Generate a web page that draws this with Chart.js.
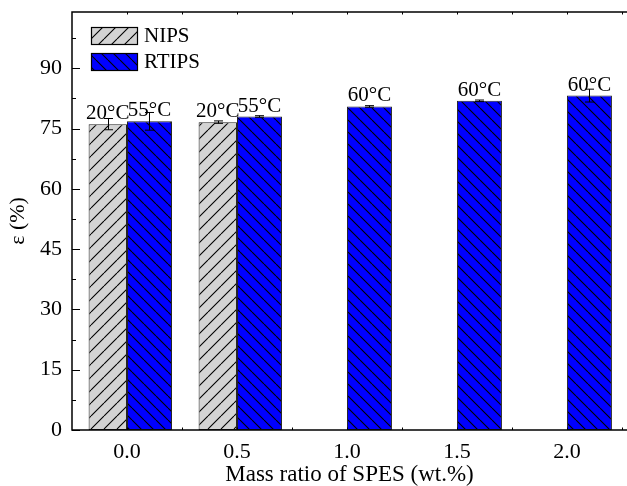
<!DOCTYPE html>
<html><head><meta charset="utf-8">
<script src="https://cdn.jsdelivr.net/npm/chart.js@4/dist/chart.umd.min.js"></script>
<style>html,body{margin:0;padding:0;background:#fff;}#wrap{width:627px;height:486px;position:relative;}</style>
</head><body><div id="wrap"><canvas id="c" width="627" height="486"></canvas></div>
<script>
// ---- data ----
const MASS_RATIOS = [0, 0.5, 1.0, 1.5, 2.0];
const TICK_LABELS = ['0.0', '0.5', '1.0', '1.5', '2.0'];
const NIPS_X = [0, 0.5];
const NIPS_VALUES = [76.1, 76.6];
const NIPS_ERRORS = [1.4, 0.3];
const NIPS_TEMPS = ['20°C', '20°C'];
const RTIPS_VALUES = [76.8, 78.0, 80.5, 81.9, 83.2];
const RTIPS_ERRORS = [2.2, 0.2, 0.2, 0.2, 1.6];
const RTIPS_TEMPS = ['55°C', '55°C', '60°C', '60°C', '60°C'];
const Y_TICKS = [0, 15, 30, 45, 60, 75, 90];
const SERIES_NAMES = ['NIPS', 'RTIPS'];

const FONT = '"Liberation Serif", "Times New Roman", serif';
const X_MIN = -0.25, X_MAX = 2.273, Y_MIN = 0, Y_MAX = 104;

function hatch(bg, dir, p) {
  const c = document.createElement('canvas'); c.width = p; c.height = p;
  const g = c.getContext('2d');
  g.fillStyle = bg; g.fillRect(0, 0, p, p);
  g.strokeStyle = '#000'; g.lineWidth = 1.1;
  g.beginPath();
  for (const k of [-p, 0, p]) {
    if (dir === '/') { g.moveTo(k, p); g.lineTo(k + p, 0); }
    else { g.moveTo(k, 0); g.lineTo(k + p, p); }
  }
  g.stroke();
  return g.createPattern(c, 'repeat');
}
const ctx = document.getElementById('c').getContext('2d');
const greyPat = hatch('#d3d3d3', '/', 13);
const bluePat = hatch('#0000ff', '\\', 12);
const ERRORS = [NIPS_ERRORS, RTIPS_ERRORS];
const TEMPS = [NIPS_TEMPS, RTIPS_TEMPS];
const FILLS = [greyPat, bluePat];

const custom = {
  id: 'custom',
  afterDatasetsUpdate(chart) {
    const ds = chart.data.datasets[0];
    chart.getDatasetMeta(0).data.forEach(el => {
      const chunk = el.width / ds.barPercentage;
      el.x += (chunk - el.width) / 2;
    });
  },
  afterDatasetsDraw(chart) {
    const c = chart.ctx, ys = chart.scales.y;
    c.save();
    c.strokeStyle = '#000'; c.lineWidth = 1;
    chart.data.datasets.forEach((ds, di) => {
      chart.getDatasetMeta(di).data.forEach((el, i) => {
        const v = ds.data[i].y, e = ERRORS[di][i];
        const y1 = ys.getPixelForValue(v - e), y2 = ys.getPixelForValue(v + e);
        const x = Math.round(el.x) + 0.5;
        c.beginPath();
        c.moveTo(x, y1); c.lineTo(x, y2);
        c.moveTo(x - 4.5, y1); c.lineTo(x + 4.5, y1);
        c.moveTo(x - 4.5, y2); c.lineTo(x + 4.5, y2);
        c.stroke();
      });
    });
    c.fillStyle = '#000'; c.font = '21px ' + FONT;
    c.textAlign = 'center'; c.textBaseline = 'alphabetic';
    chart.data.datasets.forEach((ds, di) => {
      chart.getDatasetMeta(di).data.forEach((el, i) => {
        c.fillText(TEMPS[di][i], el.x, el.y - 5);
      });
    });
    c.restore();
  },
  afterDraw(chart) {
    const c = chart.ctx, a = chart.chartArea, xs = chart.scales.x, ys = chart.scales.y;
    c.save();
    c.strokeStyle = '#000'; c.lineWidth = 1.5;
    c.beginPath();
    c.moveTo(a.right + 2, a.top); c.lineTo(a.left, a.top); c.lineTo(a.left, a.bottom); c.lineTo(a.right + 2, a.bottom);
    c.stroke();
    c.lineWidth = 1;
    c.beginPath();
    for (let v = 0; v <= Y_MAX; v += 7.5) {
      const y = Math.round(ys.getPixelForValue(v)) + 0.5;
      const len = (v % 15 === 0) ? 8 : 4;
      c.moveTo(a.left, y); c.lineTo(a.left + len, y);
    }
    for (let v = 0; v <= X_MAX; v += 0.25) {
      const x = Math.round(xs.getPixelForValue(v)) + 0.5;
      c.moveTo(x, a.top); c.lineTo(x, a.top + 2.5);
      c.moveTo(x, a.bottom); c.lineTo(x, a.bottom - 2.5);
    }
    c.stroke();
    const legY = [27, 53];
    c.font = '21px ' + FONT; c.textAlign = 'left'; c.textBaseline = 'middle';
    SERIES_NAMES.forEach((name, i) => {
      c.fillStyle = FILLS[i];
      c.fillRect(91, legY[i], 47, 17);
      c.strokeStyle = '#000'; c.lineWidth = 1.2;
      c.strokeRect(91.5, legY[i] + 0.5, 46, 17);
      c.fillStyle = '#000';
      c.fillText(name, 144, legY[i] + 9.5);
    });
    c.restore();
  }
};

new Chart(ctx, {
  type: 'bar',
  data: {
    datasets: [
      { label: SERIES_NAMES[0], data: NIPS_X.map((x, i) => ({ x, y: NIPS_VALUES[i] })),
        backgroundColor: greyPat, borderColor: '#222', borderWidth: 1, borderSkipped: false,
        barPercentage: 38.4 / 45, categoryPercentage: 90 / 110 },
      { label: SERIES_NAMES[1], data: MASS_RATIOS.map((x, i) => ({ x, y: RTIPS_VALUES[i] })),
        backgroundColor: bluePat, borderColor: '#222', borderWidth: 1, borderSkipped: false,
        barPercentage: 1, categoryPercentage: 90 / 110 }
    ]
  },
  options: {
    responsive: false, animation: false, devicePixelRatio: 1,
    layout: { padding: { top: 12, right: 0, left: 0, bottom: 0 } },
    plugins: { legend: { display: false }, tooltip: { enabled: false } },
    scales: {
      x: {
        type: 'linear', min: X_MIN, max: X_MAX, offset: false,
        afterBuildTicks: s => { s.ticks = MASS_RATIOS.map(v => ({ value: v })); },
        ticks: { callback: (v, i) => TICK_LABELS[i], font: { family: FONT, size: 22 }, color: '#000', padding: 9, maxRotation: 0, autoSkip: false },
        grid: { display: false, drawTicks: false, offset: false }, border: { display: false },
        title: { display: true, text: 'Mass ratio of SPES (wt.%)', font: { family: FONT, size: 23, lineHeight: 1 }, color: '#000', padding: 0 },
        afterFit: s => { s.height = 56; s.paddingLeft = 0; s.paddingRight = 0; }
      },
      y: {
        min: Y_MIN, max: Y_MAX,
        afterBuildTicks: s => { s.ticks = Y_TICKS.map(v => ({ value: v })); },
        ticks: { font: { family: FONT, size: 22 }, color: '#000', padding: 10 },
        grid: { display: false, drawTicks: false }, border: { display: false },
        title: { display: true, text: 'ε (%)', font: { family: FONT, size: 22, lineHeight: 1 }, color: '#000', padding: { top: 7, bottom: 0 } },
        afterFit: s => { s.width = 72; s.paddingTop = 0; s.paddingBottom = 0; }
      }
    }
  },
  plugins: [custom]
});
</script></body></html>
